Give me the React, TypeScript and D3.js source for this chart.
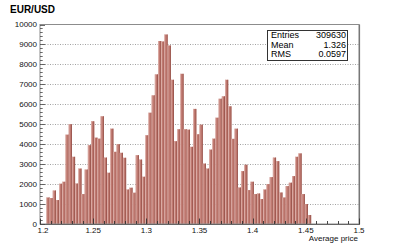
import React from "react";
import { scaleLinear, range } from "d3";

// histogram of the average EUR/USD price, bins of 0.003 starting at 1.206
const binStart = 1.206;
const binWidth = 0.003;
const counts = [
  1330, 1300, 1680, 1200, 2020, 2120, 4480, 5000, 3370, 2030,
  2780, 1500, 2730, 3950, 5150, 4330, 4280, 5400, 3330, 2570,
  4780, 3620, 4000, 3570, 3320, 1730, 1820, 1570, 3450, 3230,
  2370, 4450, 5580, 6450, 7500, 9170, 9150, 9500, 8950, 7230,
  4150, 4750, 7530, 4750, 4730, 3870, 5770, 4500, 4980, 3030,
  2780, 3730, 4280, 5330, 6280, 6400, 7230, 5900, 4270, 4780,
  1830, 2650, 2970, 1700, 2120, 1500, 1530, 1250, 1730, 2000,
  2350, 3330, 3150, 1580, 1330, 1900, 2070, 2400, 3370, 3540,
  1500, 1000, 450,
];
const xTickLabels = ["1.2", "1.25", "1.3", "1.35", "1.4", "1.45", "1.5"];
const yTickValues = [0, 1000, 2000, 3000, 4000, 5000, 6000, 7000, 8000, 9000, 10000];
const statNames = ["Entries", "Mean", "RMS"];
const statValues = ["309630", "1.326", "0.0597"];

const W = 399, H = 249;
const left = 40, right = 359, top = 24.5, bottom = 224;
const font = "'Liberation Sans', Arial, Helvetica, sans-serif";

export default function App() {
  const x = scaleLinear().domain([1.2, 1.5]).range([left, right]);
  const y = scaleLinear().domain([0, 10000]).range([bottom, top]);

  const xMinor = range(0, 31).map(i => 1.2 + i * 0.01);
  const yMinor = range(0, 51).map(i => i * 200);

  return (
    <svg width={W} height={H} style={{ position: "absolute", left: 0, top: 0, background: "#fff" }}>
      <text x={10} y={12.5} fontFamily={font} fontWeight="bold" fontSize={10}>EUR/USD</text>

      {/* grid */}
      {yTickValues.slice(1, -1).map(v => (
        <line key={"g" + v} x1={left} x2={right} y1={Math.round(y(v)) + 0.5} y2={Math.round(y(v)) + 0.5}
          stroke="#8a8a8a" strokeWidth={0.8} strokeDasharray="1 1.5" />
      ))}

      {/* bars */}
      {counts.map((c, i) => {
        const x0 = x(binStart + i * binWidth);
        const x1 = x(binStart + (i + 1) * binWidth);
        const yt = y(c);
        const w = x1 - x0;
        return (
          <g key={i}>
            <rect x={x0} y={yt} width={w} height={bottom - yt} fill="#c07a71" />
            <rect x={x0} y={yt} width={0.7} height={bottom - yt} fill="#e3b9b3" />
            <rect x={x1 - 0.8} y={yt} width={0.8} height={bottom - yt} fill="#955048" />
          </g>
        );
      })}

      {/* frame */}
      <rect x={left} y={top} width={right - left} height={bottom - top} fill="none" stroke="#8c8c8c" strokeWidth={1} />
      <line x1={right + 0.5} x2={right + 0.5} y1={top} y2={bottom + 0.5} stroke="#777" strokeWidth={1.2} />
      <line x1={left} x2={right + 1} y1={bottom + 0.5} y2={bottom + 0.5} stroke="#666" strokeWidth={1.2} />

      {/* y axis */}
      {yMinor.map(v => {
        const major = v % 1000 === 0;
        const yy = Math.round(y(v)) + 0.5;
        return <line key={"ym" + v} x1={left} x2={left + (major ? 5 : 2.7)} y1={yy} y2={yy} stroke="#444" strokeWidth={0.8} />;
      })}
      {yTickValues.map(v => (
        <text key={"yl" + v} x={37} y={y(v)} dy="0.33em" textAnchor="end" fontFamily={font} fontSize={8} fill="#111">{v}</text>
      ))}

      {/* x axis */}
      {xMinor.map((v, i) => {
        const major = i % 5 === 0;
        const xx = Math.round(x(v)) + 0.5;
        return <line key={"xm" + i} x1={xx} x2={xx} y1={bottom} y2={bottom - (major ? 5.5 : 3)} stroke="#333" strokeWidth={0.9} />;
      })}
      {xTickLabels.map((l, i) => (
        <text key={"xl" + l} x={x(+l) + (i === 0 ? 3 : 0)} y={233} textAnchor="middle" fontFamily={font} fontSize={8} fill="#111">{l}</text>
      ))}
      <text x={358} y={241} textAnchor="end" fontFamily={font} fontSize={8} fill="#111">Average price</text>

      {/* stats box */}
      <rect x={267.5} y={30.5} width={80} height={30} fill="#fff" stroke="#333" strokeWidth={1} />
      {statNames.map((n, i) => (
        <g key={n}>
          <text x={271} y={38.3 + i * 9.5} fontFamily={font} fontSize={9} fill="#000">{n}</text>
          <text x={346} y={38.3 + i * 9.5} textAnchor="end" fontFamily={font} fontSize={9} fill="#000">{statValues[i]}</text>
        </g>
      ))}
    </svg>
  );
}
